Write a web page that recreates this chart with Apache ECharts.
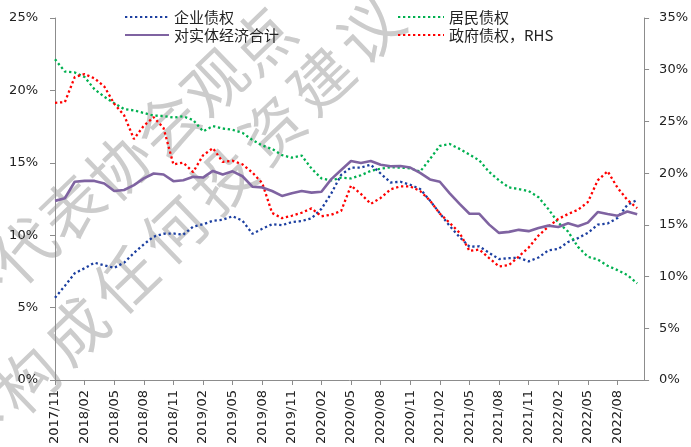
<!DOCTYPE html>
<html><head><meta charset="utf-8">
<script src="https://cdn.jsdelivr.net/npm/echarts@6/dist/echarts.min.js"></script>
<style>html,body{margin:0;padding:0;background:#fff}#c{width:691px;height:447px}</style>
</head><body><div id="c"></div><script>
const months = ["2017/11","2017/12","2018/01","2018/02","2018/03","2018/04","2018/05","2018/06","2018/07","2018/08","2018/09","2018/10","2018/11","2018/12","2019/01","2019/02","2019/03","2019/04","2019/05","2019/06","2019/07","2019/08","2019/09","2019/10","2019/11","2019/12","2020/01","2020/02","2020/03","2020/04","2020/05","2020/06","2020/07","2020/08","2020/09","2020/10","2020/11","2020/12","2021/01","2021/02","2021/03","2021/04","2021/05","2021/06","2021/07","2021/08","2021/09","2021/10","2021/11","2021/12","2022/01","2022/02","2022/03","2022/04","2022/05","2022/06","2022/07","2022/08","2022/09","2022/10"];
const corporate = [5.68,6.5,7.37,7.72,8.1,7.92,7.75,8.1,8.77,9.37,9.9,10.1,10.12,10.03,10.6,10.75,11.0,11.07,11.31,11.0,10.1,10.44,10.76,10.69,10.91,10.98,11.17,11.82,12.89,14.17,14.67,14.67,14.87,14.26,13.64,13.69,13.48,13.19,12.39,11.51,10.64,9.87,9.21,9.23,8.78,8.35,8.41,8.44,8.19,8.46,8.96,9.05,9.53,9.8,10.16,10.73,10.8,11.19,12.09,12.44];
const household = [22.15,21.3,21.24,20.92,20.08,19.56,19.12,18.71,18.62,18.44,18.26,18.23,18.12,18.21,17.95,17.17,17.53,17.37,17.28,17.07,16.58,16.19,15.96,15.53,15.35,15.5,14.6,13.92,13.78,13.98,13.92,14.14,14.44,14.6,14.69,14.67,14.62,14.39,15.26,16.17,16.3,15.96,15.57,15.16,14.37,13.78,13.3,13.19,13.05,12.62,11.8,10.87,10.25,9.19,8.51,8.32,7.89,7.59,7.25,6.68];
const totalReal = [12.37,12.55,13.69,13.75,13.75,13.57,13.05,13.12,13.46,13.92,14.26,14.19,13.73,13.8,14.03,13.98,14.44,14.19,14.41,14.07,13.35,13.3,13.05,12.71,12.89,13.05,12.94,13.0,13.87,14.5,15.12,14.99,15.12,14.87,14.76,14.78,14.67,14.3,13.85,13.69,12.89,12.16,11.48,11.48,10.73,10.16,10.23,10.37,10.28,10.5,10.66,10.57,10.82,10.62,10.87,11.6,11.46,11.34,11.64,11.44];
const government = [26.8,26.87,29.29,29.58,29.16,28.37,26.71,25.6,23.3,24.58,25.41,24.36,20.85,21.01,20.1,21.72,22.42,21.08,21.2,20.85,20.06,19.04,16.15,15.65,15.88,16.17,16.59,15.83,15.98,16.35,18.8,17.99,17.03,17.6,18.43,18.72,18.72,18.27,17.35,16.08,15.19,14.23,12.48,12.61,11.78,10.98,11.11,11.94,12.8,13.97,14.83,15.57,16.05,16.46,17.2,19.3,20.18,18.6,17.41,16.62];
const seriesNames = ["企业债权","居民债权","对实体经济合计","政府债权，RHS"];
const watermark1 = "不代表协会观点";
const watermark2 = "不构成任何投资建议";

const chart = echarts.init(document.getElementById('c'), null, {renderer:'canvas'});
const labelFont = 'DejaVu Sans';
const cjk = 'Noto Sans CJK SC';
const pairs = arr => arr.map((v,i)=>[i,v]);

const wm = [];
const w1Start = [-23, 292], w1Step = [47.5, -42];
for (let k=0;k<watermark1.length;k++) wm.push({ch:watermark1[k], x:w1Start[0]+w1Step[0]*k, y:w1Start[1]+w1Step[1]*k});
const w2Start = [-22, 430], w2Step = [49, -50];
for (let k=0;k<watermark2.length;k++) wm.push({ch:watermark2[k], x:w2Start[0]+w2Step[0]*k, y:w2Start[1]+w2Step[1]*k});
const graphic = wm.map(o=>({type:'text', x:o.x, y:o.y, rotation:44*Math.PI/180, z:0, silent:true,
  style:{text:o.ch, fill:'#cccccc', font:'62px "Noto Sans CJK SC"', align:'center', verticalAlign:'middle'}}));

const axisGray = '#8c8c8c';
const legendText = {fontFamily:cjk, fontSize:15, color:'#222', lineHeight:18, padding:[0,0,0,0]};
chart.setOption({
  animation:false,
  backgroundColor:'#fff',
  graphic: graphic,
  grid:{left:55, right:43, top:18, bottom:63, containLabel:false},
  legend:[
    {left:122, top:6, orient:'vertical', itemWidth:44, itemHeight:14, itemGap:0, padding:[2,2,2,2],
     itemStyle:{opacity:0},
     data:[seriesNames[0], seriesNames[2]], textStyle:legendText},
    {left:395, top:6, orient:'vertical', itemWidth:46, itemHeight:14, itemGap:0, padding:[2,2,2,2],
     itemStyle:{opacity:0},
     data:[seriesNames[1], seriesNames[3]], textStyle:legendText}
  ],
  xAxis:{type:'value', min:0, max:59.7, interval:3,
    axisLine:{lineStyle:{color:axisGray, width:1}},
    axisTick:{show:true, length:5, lineStyle:{color:axisGray}},
    splitLine:{show:false},
    axisLabel:{rotate:90, margin:10, fontFamily:labelFont, fontSize:13, color:'#222',
      showMaxLabel:false,
      formatter:v=> (Number.isInteger(v) && months[v]) ? months[v] : ''}},
  yAxis:[
    {type:'value', min:0, max:25, interval:5, position:'left',
     axisLine:{show:true, lineStyle:{color:axisGray}},
     axisTick:{show:true, length:5, lineStyle:{color:axisGray}},
     splitLine:{show:false},
     axisLabel:{formatter:'{value}%', margin:17, fontFamily:labelFont, fontSize:13, color:'#222'}},
    {type:'value', min:0, max:35, interval:5, position:'right',
     axisLine:{show:true, lineStyle:{color:axisGray}},
     axisTick:{show:true, length:5, lineStyle:{color:axisGray}},
     splitLine:{show:false},
     axisLabel:{formatter:'{value}%', margin:15, fontFamily:labelFont, fontSize:13, color:'#222'}}
  ],
  series:[
    {name:seriesNames[0], type:'line', data:pairs(corporate), symbol:'none', color:'#1c3fa0',
     lineStyle:{color:'#1c3fa0', width:2.3, type:[2.3,2.7], cap:'butt'}, z:3},
    {name:seriesNames[1], type:'line', data:pairs(household), symbol:'none', color:'#00b050',
     lineStyle:{color:'#00b050', width:2.3, type:[2.3,2.7], cap:'butt'}, z:3},
    {name:seriesNames[2], type:'line', data:pairs(totalReal), symbol:'none', color:'#7f63a1',
     lineStyle:{color:'#7f63a1', width:2.6}, z:4},
    {name:seriesNames[3], type:'line', yAxisIndex:1, data:pairs(government), symbol:'none', color:'#ff0000',
     lineStyle:{color:'#ff0000', width:2.3, type:[2.3,2.7], cap:'butt'}, z:3}
  ]
});
</script></body></html>
